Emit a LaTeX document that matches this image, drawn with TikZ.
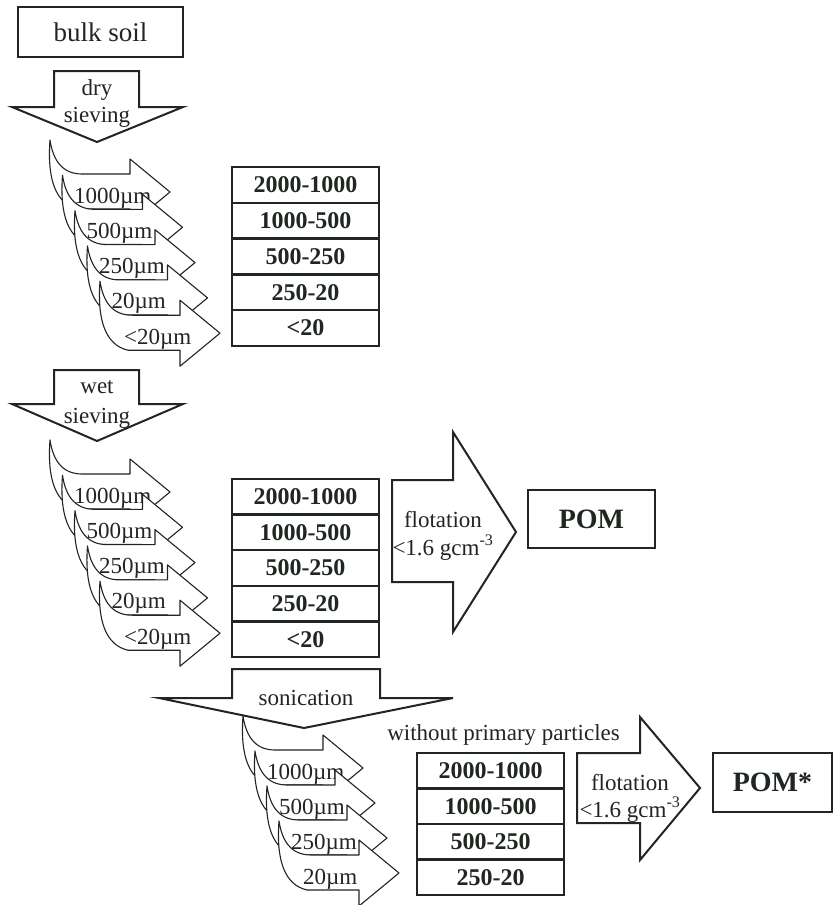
\documentclass[tikz,border=0pt]{standalone}
\usepackage{fontspec}
\setmainfont{Liberation Serif}
\definecolor{ink}{RGB}{32,38,32}
\newcommand\sievearrow[4]{% x, y of tip, label name, label text
  \begin{scope}[shift={(#1,#2)}]
    \draw[carr] (-120,-52) .. controls (-117,-32) and (-108,-18) .. (-88,-18)
      -- (-40,-18) -- (-40,-33) -- (0,0) -- (-40,33) -- (-40,17) -- (-92,17)
      .. controls (-114,12) and (-123,-12) .. (-120,-52) -- cycle;
    \node[lbl] (#3) at (-96,11) {#4};
  \end{scope}}
\begin{document}
\begin{tikzpicture}[x=1pt,y=-1pt,
  carr/.style={draw=ink, fill=white, line width=1.1pt, line join=round},
  blk/.style={draw=ink, fill=white, line width=2pt, line join=miter},
  lbl/.style={font=\fontsize{23}{23}\selectfont, text=ink, inner sep=0pt, anchor=base west},
  txt/.style={font=\fontsize{23}{23}\selectfont, text=ink, inner sep=0pt, anchor=base},
  rowbox/.style={draw=ink, line width=2.4pt, minimum width=147pt, inner sep=0pt,
    font=\fontsize{24}{24}\selectfont\bfseries, text=ink},
  outbox/.style={draw=ink, line width=2pt, inner sep=0pt, text=ink}]
\useasboundingbox (0,0) rectangle (835,905);
\fill[white] (0,0) rectangle (835,905);

% bulk soil
\node[outbox, minimum width=165pt, minimum height=50pt, font=\fontsize{27}{27}\selectfont] (bulk) at (100.5,32) {bulk soil};

% dry sieving arrow
\draw[blk] (54,71) -- (139,71) -- (139,107) -- (183,107) -- (97,142) -- (12,107) -- (54,107) -- cycle;
\node[txt] (dry1) at (97,95) {dry};
\node[txt] (dry2) at (97,122) {sieving};

% group 1 curved arrows
\sievearrow{170}{192}{g1a}{1000µm}
\sievearrow{182.5}{227.3}{g1b}{500µm}
\sievearrow{195}{262.6}{g1c}{250µm}
\sievearrow{207.5}{297.9}{g1d}{20µm}
\sievearrow{220}{333.2}{g1e}{<20µm}

% table 1
\foreach \t [count=\i from 0] in {2000-1000,1000-500,500-250,250-20,<20}{
  \node[rowbox, minimum height=35.8pt] (ta\i) at (305.5,{167+35.8*(\i+0.5)}) {\t};
}

% wet sieving arrow
\draw[blk] (54,370) -- (139,370) -- (139,404) -- (183,404) -- (97,441) -- (12,404) -- (54,404) -- cycle;
\node[txt] (wet1) at (97,393) {wet};
\node[txt] (wet2) at (97,423) {sieving};

% group 2 curved arrows
\sievearrow{170}{492}{g2a}{1000µm}
\sievearrow{182.5}{527.3}{g2b}{500µm}
\sievearrow{195}{562.6}{g2c}{250µm}
\sievearrow{207.5}{597.9}{g2d}{20µm}
\sievearrow{220}{633.2}{g2e}{<20µm}

% table 2
\foreach \t [count=\i from 0] in {2000-1000,1000-500,500-250,250-20,<20}{
  \node[rowbox, minimum height=35.6pt] (tb\i) at (305.5,{479+35.6*(\i+0.5)}) {\t};
}

% flotation 1
\draw[blk] (392,480) -- (453,480) -- (453,432) -- (516,532) -- (453,632) -- (453,582) -- (392,582) -- cycle;
\node[txt] (fl1) at (443,527) {flotation};
\node[txt] (fl1b) at (443,555) {<1.6 gcm\textsuperscript{-3}};
\node[outbox, minimum width=127pt, minimum height=58pt, font=\fontsize{28}{28}\selectfont\bfseries] (pom) at (591.5,519) {POM};

% group 3 curved arrows
\sievearrow{363}{768}{g3a}{1000µm}
\sievearrow{375}{803}{g3b}{500µm}
\sievearrow{387}{838}{g3c}{250µm}
\sievearrow{399}{873}{g3d}{20µm}

% sonication arrow
\draw[blk] (232,669) -- (380,669) -- (380,698) -- (453,698) -- (304,728) -- (159,698) -- (232,698) -- cycle;
\node[txt] (son) at (306,705) {sonication};

\node[txt, anchor=base east] (wpp) at (620,740) {without primary particles};

% table 3
\foreach \t [count=\i from 0] in {2000-1000,1000-500,500-250,250-20}{
  \node[rowbox, minimum height=35.5pt] (tc\i) at (490.5,{753+35.5*(\i+0.5)}) {\t};
}

% flotation 2
\draw[blk] (577,753) -- (640,753) -- (640,717) -- (700,788) -- (640,860) -- (640,823) -- (577,823) -- cycle;
\node[txt] (fl2) at (630,790) {flotation};
\node[txt] (fl2b) at (630,817) {<1.6 gcm\textsuperscript{-3}};
\node[outbox, minimum width=119pt, minimum height=59pt, font=\fontsize{28}{28}\selectfont\bfseries] (pomst) at (772.5,782.5) {POM*};
\end{tikzpicture}
\end{document}
